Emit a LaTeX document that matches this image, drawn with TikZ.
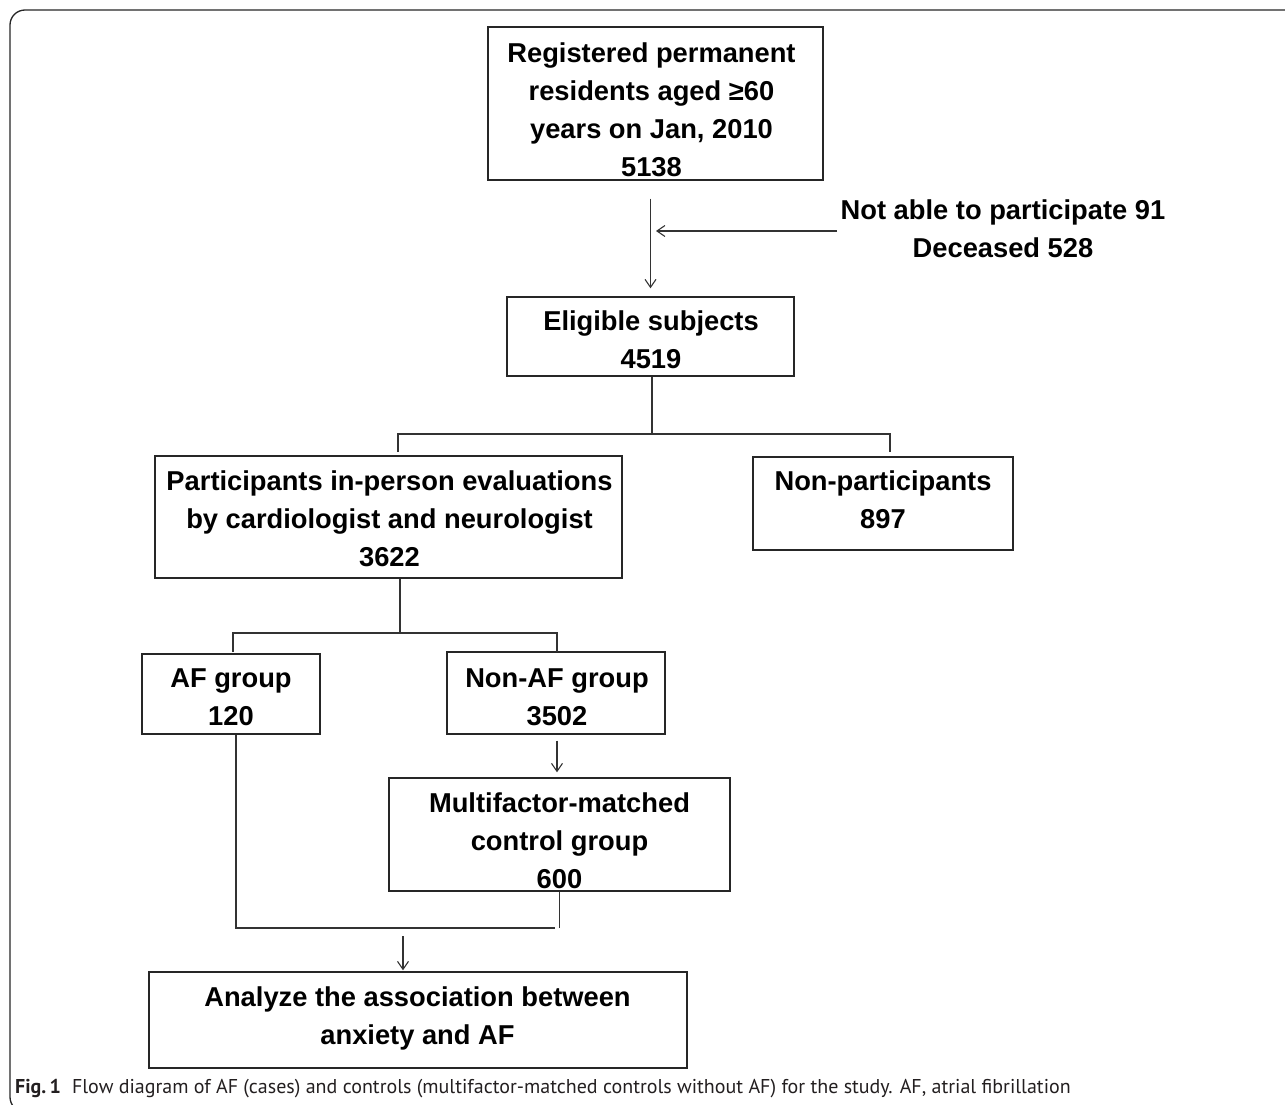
\documentclass[tikz,border=0pt]{standalone}
\usepackage{fontspec}
\setmainfont{Liberation Sans}
\newfontfamily\capfont{PT Sans}
\usetikzlibrary{arrows.meta,calc}
\definecolor{capgray}{HTML}{231F20}
\begin{document}
\begin{tikzpicture}[x=1pt,y=-1pt,
  box/.style={draw=black!85, line width=1.4pt, inner sep=0pt, fill=none},
  txt/.style={align=center, inner sep=0pt, font=\bfseries\fontsize{27.3}{38}\selectfont},
  ln/.style={draw=black!80, line width=1.2pt},
  arr/.style={ln, -{Straight Barb[length=8pt,width=11pt,line width=1.1pt]}}]
\path[use as bounding box] (0,0) rectangle (1285,1105);
% frame
\draw[black!85, line width=1.3pt, rounded corners=15pt] (1300,10) -- (10,10) -- (10,1112) -- (40,1112);
% boxes
\node[box, minimum width=335pt, minimum height=153pt] (b1) at (655.5,103.5) {};
\node[box, minimum width=287pt, minimum height=79pt]  (b2) at (650.5,336.5) {};
\node[box, minimum width=467pt, minimum height=122pt] (b3) at (388.5,517) {};
\node[box, minimum width=260pt, minimum height=93pt]  (b4) at (883,503.5) {};
\node[box, minimum width=178pt, minimum height=80pt]  (b5) at (231,694) {};
\node[box, minimum width=218pt, minimum height=82pt]  (b6) at (556,693) {};
\node[box, minimum width=341pt, minimum height=113pt] (b7) at (559.5,834.5) {};
\node[box, minimum width=538pt, minimum height=96pt]  (b8) at (418,1020) {};
% texts
\node[txt] (t1) at (651.5,110) {Registered permanent\\residents aged ≥60\\years on Jan, 2010\\5138};
\node[txt] (t2) at (651,339.5) {Eligible subjects\\4519};
\node[txt] (t3) at (389.5,518.5) {Participants in-person evaluations\\by cardiologist and neurologist\\3622};
\node[txt] (t4) at (883,500) {Non-participants\\897};
\node[txt] (t5) at (231,697.5) {AF group\\120};
\node[txt] (t6) at (557,697) {Non-AF group\\3502};
\node[txt] (t7) at (559.5,841) {Multifactor-matched\\control group\\600};
\node[txt] (t8) at (417.5,1018) {Analyze the association between\\anxiety and AF};
\node[txt] (ex) at (1003,228.5) {Not able to participate 91\\Deceased 528};
% connectors
\draw[arr, shorten <=18pt, shorten >=8pt] (b2.north |- b1.south) -- (b2.north);
\coordinate (jn) at (656,231);
\coordinate (es) at (837,231);
\draw[arr] (es) -- (jn);
\coordinate (h1) at (652,434);
\coordinate (p1) at (398,452);
\coordinate (p2) at (890,452);
\draw[ln] (h1 |- b2.south) -- (h1);
\draw[ln] (p1) |- (h1) -| (p2);
\coordinate (h2) at (400,633);
\coordinate (q1) at (233,652);
\coordinate (q2) at (557,652);
\draw[ln] (h2 |- b3.south) -- (h2);
\draw[ln] (q1) |- (h2) -| (q2);
\draw[arr, shorten <=6pt, shorten >=5pt] (q2 |- b6.south) -- (q2 |- b7.north);
\coordinate (m1) at (236,928);
\coordinate (m2) at (555,928);
\draw[ln] (m1 |- b5.south) -- (m1) -- (m2);
\draw[ln] (b7.south) -- (b7.south |- m1);
\coordinate (m3) at (403,936);
\draw[arr, shorten >=1pt] (m3) -- (m3 |- b8.north);
% caption
\node[anchor=base west, inner sep=0pt, text=capgray, font=\capfont\fontsize{20}{24}\selectfont] (cap) at (15,1093)
  {\textbf{Fig.\,1}\hspace{0.55em}Flow diagram of AF (cases) and controls (multifactor-matched controls without AF) for the study. AF, atrial fibrillation};
\end{tikzpicture}
\end{document}
